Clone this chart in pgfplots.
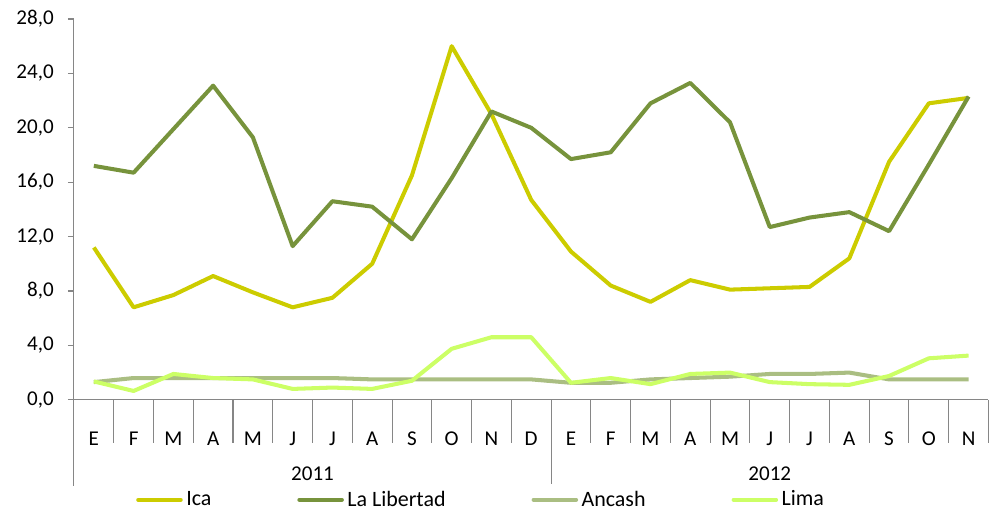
\documentclass[border=0pt]{standalone}
\usepackage{pgfplots}
\pgfplotsset{compat=1.18}
\usepackage{fontspec}
\setmainfont{Carlito}
\definecolor{ica}{RGB}{204,204,0}
\definecolor{libertad}{RGB}{119,147,60}
\definecolor{ancash}{RGB}{170,190,130}
\definecolor{lima}{RGB}{204,255,102}
\definecolor{axgray}{RGB}{134,134,134}

\begin{document}
\begin{tikzpicture}
\begin{axis}[
  scale only axis,
  width=18.3cm,height=7.62cm,
  xmin=-0.5,xmax=22.5,
  ymin=0,ymax=28,
  ytick={0,4,...,28},
  xtick={0,...,22},
  xticklabels={E,F,M,A,M,J,J,A,S,O,N,D,E,F,M,A,M,J,J,A,S,O,N},
  axis x line=bottom,axis y line=left,
  axis line style={axgray,line width=0.6pt,-},
  tick align=outside,
  major tick length=0.12cm,
  x tick style={draw=none},
  y tick style={axgray,line width=0.6pt},
  xticklabel style={anchor=center,yshift=-0.66cm},
  tick label style={font=\fontsize{12}{14}\selectfont},
  yticklabel style={xshift=-0.16cm},
  /pgf/number format/.cd,fixed,fixed zerofill,precision=1,use comma,
  assume math mode=true,
  /pgfplots/.cd,
  clip=false,
  legend columns=4,
  legend style={at={(0.446,-0.2625)},anchor=center,draw=none,
    font=\fontsize{12.5}{14}\selectfont,
    /tikz/every even column/.append style={column sep=1.65cm}},
  legend image code/.code={\draw[#1,line cap=round] (0cm,0cm) -- (0.85cm,0cm);},
  every axis plot/.append style={line width=2.3pt,line join=round},
]
\addplot[ica] coordinates {
  (0,11.2)(1,6.8)(2,7.7)(3,9.1)(4,7.9)(5,6.8)(6,7.5)(7,10.0)(8,16.5)(9,26.0)
  (10,21.0)(11,14.7)(12,10.9)(13,8.4)(14,7.2)(15,8.8)(16,8.1)(17,8.2)(18,8.3)
  (19,10.4)(20,17.5)(21,21.8)(22,22.2)};
\addplot[libertad] coordinates {
  (0,17.2)(1,16.7)(2,19.9)(3,23.1)(4,19.3)(5,11.3)(6,14.6)(7,14.2)(8,11.8)(9,16.3)
  (10,21.2)(11,20.0)(12,17.7)(13,18.2)(14,21.8)(15,23.3)(16,20.4)(17,12.7)(18,13.4)
  (19,13.8)(20,12.4)(21,17.3)(22,22.3)};
\addplot[ancash] coordinates {
  (0,1.3)(1,1.6)(2,1.6)(3,1.6)(4,1.6)(5,1.6)(6,1.6)(7,1.5)(8,1.5)(9,1.5)
  (10,1.5)(11,1.5)(12,1.25)(13,1.25)(14,1.5)(15,1.6)(16,1.7)(17,1.9)(18,1.9)
  (19,2.0)(20,1.5)(21,1.5)(22,1.5)};
\addplot[lima] coordinates {
  (0,1.35)(1,0.65)(2,1.9)(3,1.6)(4,1.5)(5,0.8)(6,0.9)(7,0.8)(8,1.4)(9,3.75)
  (10,4.6)(11,4.6)(12,1.25)(13,1.6)(14,1.15)(15,1.9)(16,2.0)(17,1.3)(18,1.15)
  (19,1.1)(20,1.75)(21,3.05)(22,3.25)};
\legend{Ica,La Libertad,Ancash,Lima}
% category separators below the axis
\pgfplotsinvokeforeach{0.5,1.5,2.5,3.5,4.5,5.5,6.5,7.5,8.5,9.5,10.5,
  12.5,13.5,14.5,15.5,16.5,17.5,18.5,19.5,20.5,21.5,22.5}{
  \draw[axgray,line width=0.6pt] (axis cs:#1,0) -- ([yshift=-0.86cm]axis cs:#1,0);
}
% year separators
\draw[axgray,line width=0.6pt] (axis cs:-0.5,0) -- ([yshift=-1.72cm]axis cs:-0.5,0);
\draw[axgray,line width=0.6pt] (axis cs:11.5,0) -- ([yshift=-1.72cm]axis cs:11.5,0);
\node[font=\fontsize{12}{14}\selectfont] at ([yshift=-1.48cm]axis cs:5.5,0) {2011};
\node[font=\fontsize{12}{14}\selectfont] at ([yshift=-1.48cm]axis cs:17,0) {2012};
\end{axis}
\path[use as bounding box] (-1.48cm,-2.24cm) rectangle (18.3cm,8.0cm);
\end{tikzpicture}
\end{document}
